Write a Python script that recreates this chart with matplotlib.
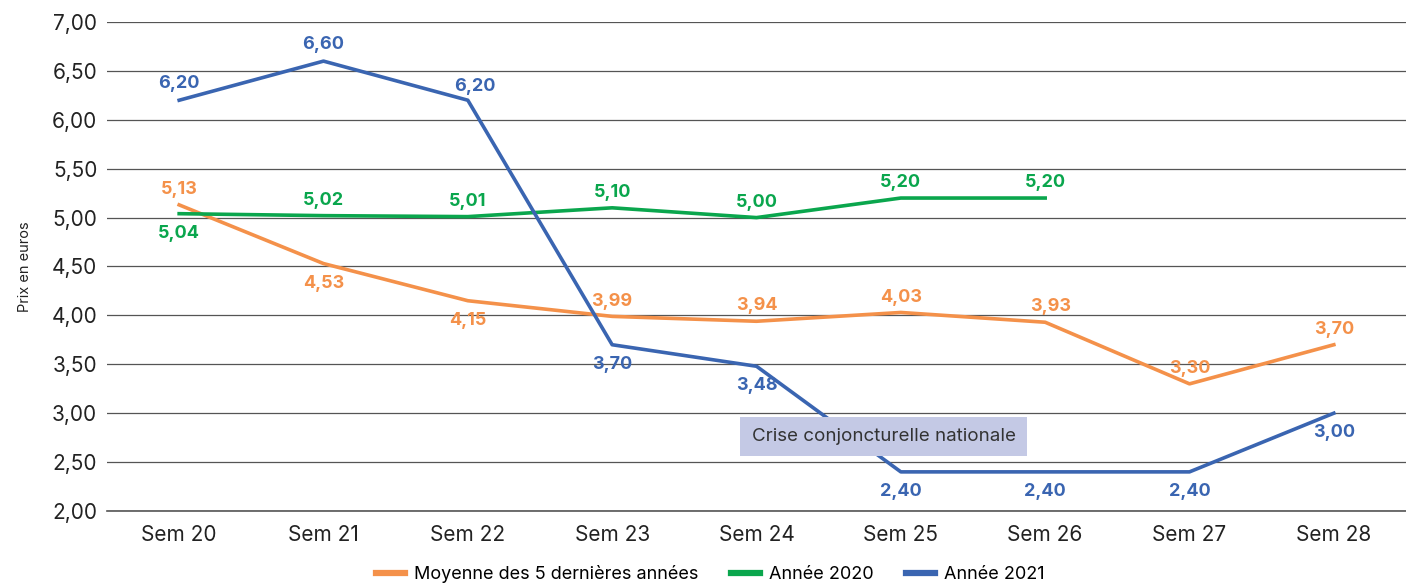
import matplotlib.pyplot as plt
from matplotlib.ticker import FuncFormatter, MultipleLocator

plt.rcParams["font.family"] = ["Inter", "DejaVu Sans"]

# Data
weeks = ["Sem 20", "Sem 21", "Sem 22", "Sem 23", "Sem 24", "Sem 25", "Sem 26", "Sem 27", "Sem 28"]
moyenne_5ans = [5.13, 4.53, 4.15, 3.99, 3.94, 4.03, 3.93, 3.30, 3.70]
annee_2020 = [5.04, 5.02, 5.01, 5.10, 5.00, 5.20, 5.20]
annee_2021 = [6.20, 6.60, 6.20, 3.70, 3.48, 2.40, 2.40, 2.40, 3.00]
crise_label = "Crise conjoncturelle nationale"

ORANGE = "#F4914A"
GREEN = "#0AA64D"
BLUE = "#3A65B1"

# label offsets in points (dx, dy): positive dy = above
off_orange = [(0, 11), (0, -14), (0, -14), (0, 11), (0, 11), (0, 11), (4, 11), (0, 11), (0, 11)]
off_green = [(0, -14), (0, 11), (0, 11), (0, 11), (0, 11), (0, 11), (0, 11)]
off_blue = [(0, 12), (0, 12), (5, 10), (0, -14), (0, -14), (0, -14), (0, -14), (0, -14), (0, -14)]

fig = plt.figure(figsize=(14.06, 5.85), dpi=100)
ax = fig.add_axes([0.0761, 0.1265, 0.9239, 0.8359])

x_all = range(len(weeks))
series = [
    (moyenne_5ans, ORANGE, "Moyenne des 5 dernières années", off_orange),
    (annee_2020, GREEN, "Année 2020", off_green),
    (annee_2021, BLUE, "Année 2021", off_blue),
]
for vals, col, lab, offs in series:
    xs = list(range(len(vals)))
    ax.plot(xs, vals, color=col, linewidth=2.6, label=lab, zorder=3)
    for xi, v, (dx, dy) in zip(xs, vals, offs):
        ax.annotate(f"{v:.2f}".replace(".", ","), (xi, v), xytext=(dx, dy),
                    textcoords="offset points", ha="center", va="center",
                    color=col, fontsize=13, fontweight="bold", zorder=4)

ax.text(4.88, 2.76, crise_label, ha="center", va="center", fontsize=13.5, color="#333333",
        bbox=dict(boxstyle="square,pad=0.6", facecolor="#C4C9E5", edgecolor="none"), zorder=5)

ax.set_xlim(-0.5, 8.5)
ax.set_ylim(2.0, 7.0)
ax.yaxis.set_major_locator(MultipleLocator(0.5))
ax.yaxis.set_major_formatter(FuncFormatter(lambda v, p: f"{v:.2f}".replace(".", ",")))
ax.set_xticks(list(x_all))
ax.set_xticklabels(weeks)
ax.tick_params(axis="both", length=0, labelsize=15, colors="#222222")
ax.tick_params(axis="x", pad=10)
ax.tick_params(axis="y", pad=7)
ax.grid(axis="y", color="#555555", linewidth=0.9)
ax.axhline(2.0, color="#555555", linewidth=1.2, clip_on=False, zorder=1)
ax.set_axisbelow(True)
for s in ax.spines.values():
    s.set_visible(False)
ax.set_ylabel("Prix en euros", fontsize=10.5, color="#222222", labelpad=14)

fig.legend(loc="center", bbox_to_anchor=(0.505, 0.018), ncol=3, frameon=False,
           fontsize=13, handlelength=1.6, columnspacing=1.8, handletextpad=0.5)
for line in fig.legends[0].get_lines():
    line.set_linewidth(4.5)

fig.savefig("out.png", dpi=100)
